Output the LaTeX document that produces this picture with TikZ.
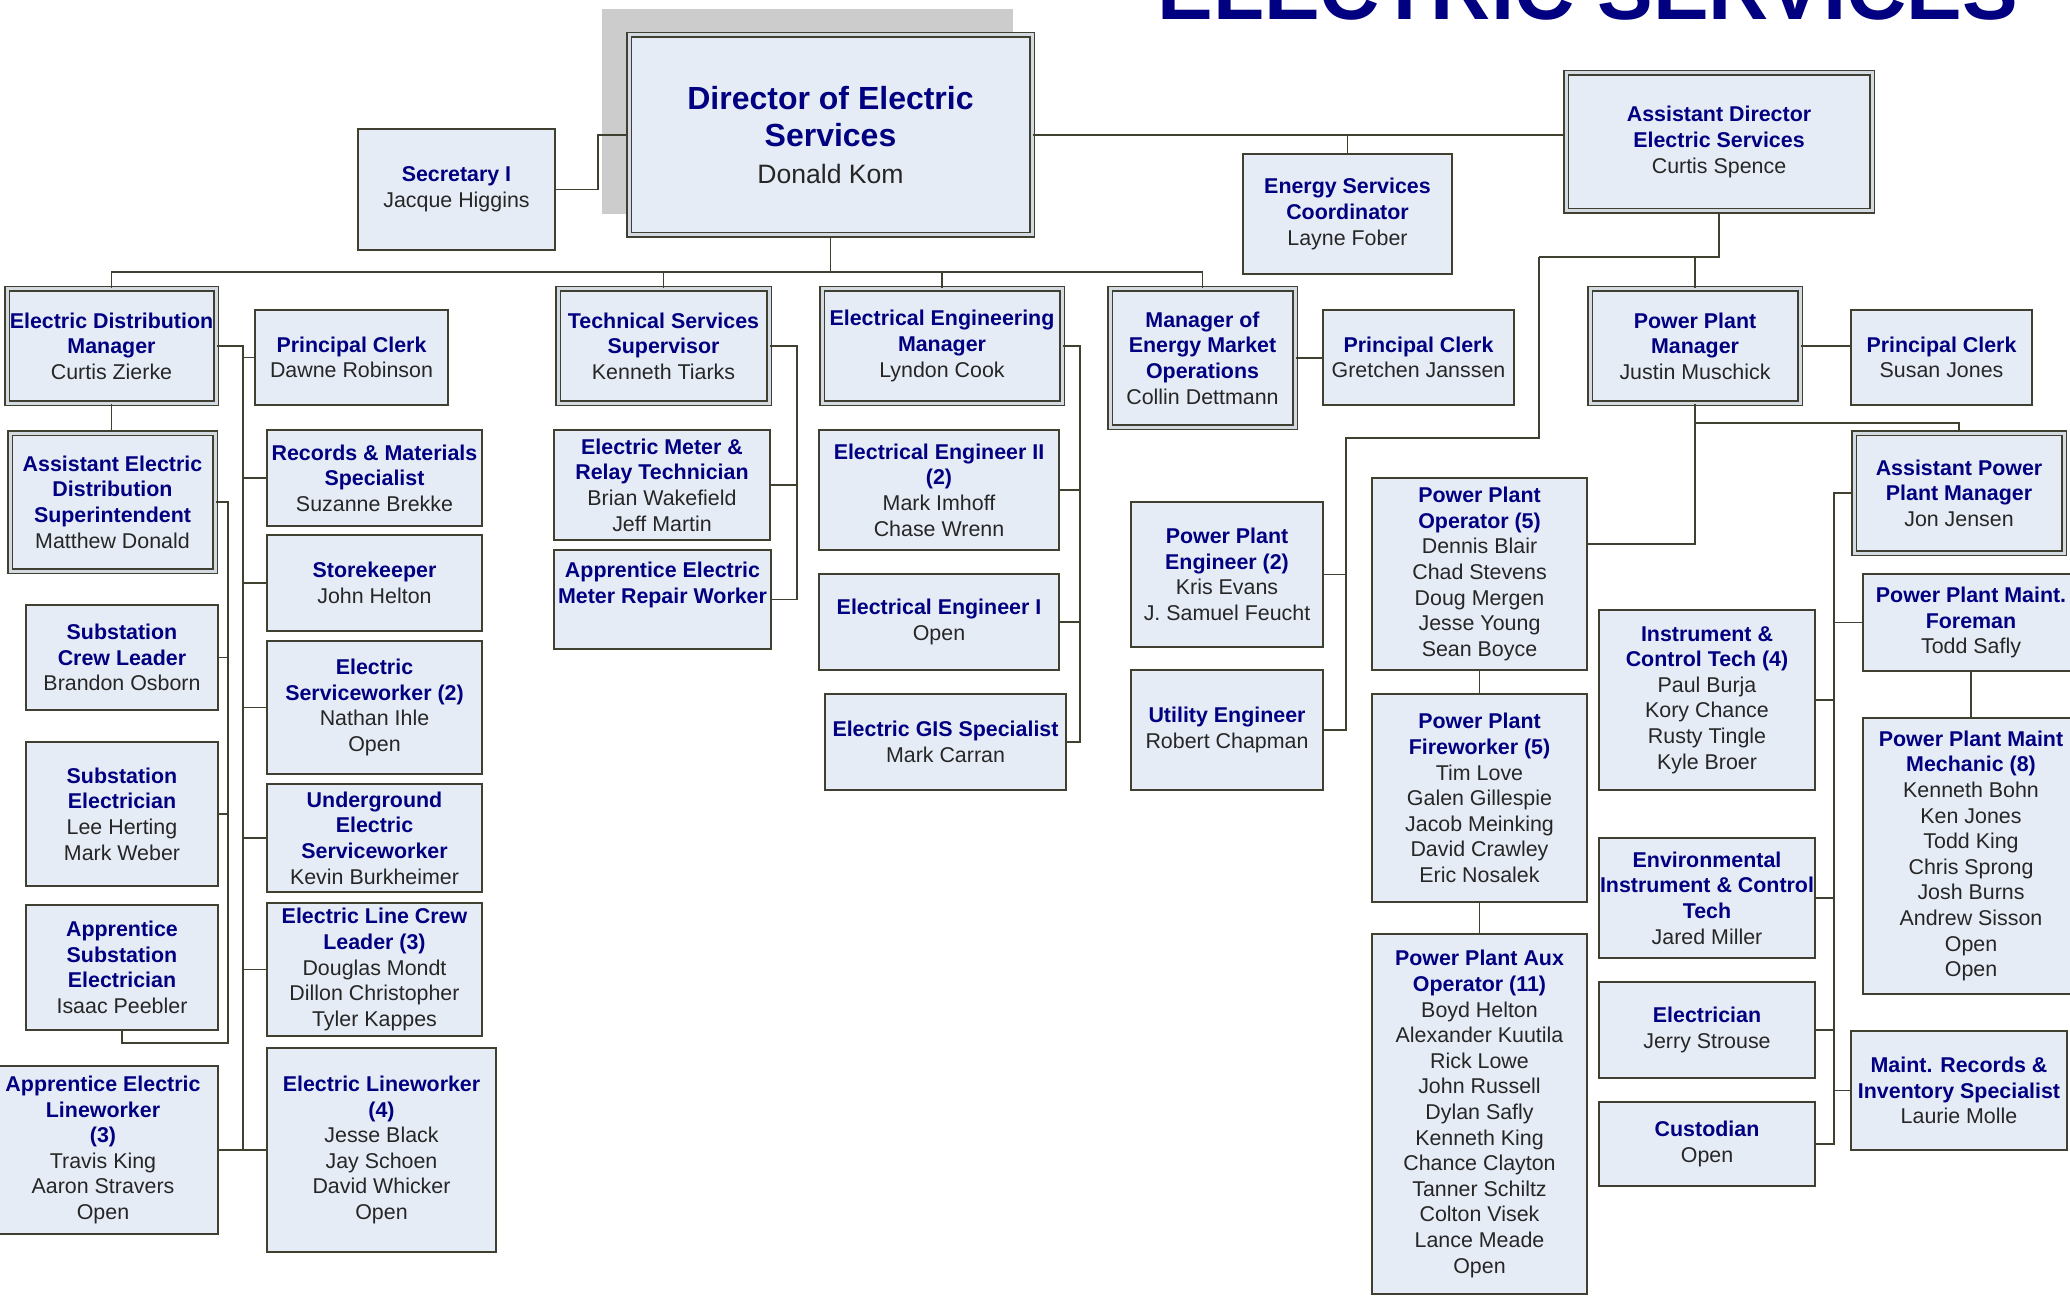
\documentclass[tikz,border=0pt]{standalone}
\usepackage{fontspec}
\setmainfont{Liberation Sans}
\definecolor{linec}{RGB}{64,64,48}
\definecolor{boxfill}{RGB}{230,236,246}
\definecolor{gapc}{RGB}{212,218,226}
\definecolor{titlec}{RGB}{0,0,128}
\definecolor{namec}{RGB}{38,38,38}
\definecolor{shadowc}{RGB}{204,204,204}
\newcommand\ptitle[1]{{\color{titlec}\bfseries #1}}
\newcommand\pname[1]{{\color{namec}#1}}
\tikzset{
  box/.style={draw=linec, line width=1pt, fill=boxfill, inner sep=0pt, align=center, font=\fontsize{10.7pt}{12.8pt}\selectfont},
  dbox/.style={box, line width=0.75pt, double=gapc, double distance=1.5pt},
  wire/.style={draw=linec, line width=0.9pt}
}
\begin{document}
\begin{tikzpicture}[x=0.5pt,y=-0.5pt]
\useasboundingbox (0,0) rectangle (2070,1299);
\clip (0,0) rectangle (2070,1299);
\fill[white] (0,0) rectangle (2070,1299);

% title
\node[anchor=base west, inner sep=0pt, font=\fontsize{41.7pt}{50pt}\selectfont\bfseries, text=titlec] (heading) at (1157,20) {ELECTRIC SERVICES};

% shadow
\fill[shadowc] (602,9) rectangle (1013,214);

% boxes
\node[dbox, minimum width=201.5pt, minimum height=100pt, font=\fontsize{16pt}{18.5pt}\selectfont] (director) at (830.5,135) {\ptitle{Director of Electric}\\\ptitle{Services}\\\pname{\fontsize{13.3pt}{16pt}\selectfont Donald Kom}};
\node[box, minimum width=98.5pt, minimum height=60.5pt] (secretary) at (456.5,189.5) {\ptitle{Secretary I}\\\pname{Jacque Higgins}};
\node[dbox, minimum width=153pt, minimum height=69pt] (asstdir) at (1719,142) {\ptitle{Assistant Director}\\\ptitle{Electric Services}\\\pname{Curtis Spence}};
\node[box, minimum width=104.5pt, minimum height=60pt] (esc) at (1347.5,214) {\ptitle{Energy Services}\\\ptitle{Coordinator}\\\pname{Layne Fober}};
\node[dbox, minimum width=104.5pt, minimum height=57pt] (edm) at (111.5,346) {\ptitle{Electric Distribution}\\\ptitle{Manager}\\\pname{Curtis Zierke}};
\node[box, minimum width=96.5pt, minimum height=47.5pt] (pcd) at (351.5,357.5) {\ptitle{Principal Clerk}\\\pname{Dawne Robinson}};
\node[dbox, minimum width=105.5pt, minimum height=57pt] (tss) at (663.5,346) {\ptitle{Technical Services}\\\ptitle{Supervisor}\\\pname{Kenneth Tiarks}};
\node[dbox, minimum width=120pt, minimum height=57pt] (eem) at (942,346) {\ptitle{Electrical Engineering}\\\ptitle{Manager}\\\pname{Lyndon Cook}};
\node[dbox, minimum width=92.5pt, minimum height=69pt] (meo) at (1202.5,358) {\ptitle{Manager of}\\\ptitle{Energy Market}\\\ptitle{Operations}\\\pname{Collin Dettmann}};
\node[box, minimum width=95.5pt, minimum height=47.5pt] (pcg) at (1418.5,357.5) {\ptitle{Principal Clerk}\\\pname{Gretchen Janssen}};
\node[dbox, minimum width=105pt, minimum height=57pt] (ppm) at (1695,346) {\ptitle{Power Plant}\\\ptitle{Manager}\\\pname{Justin Muschick}};
\node[box, minimum width=90.5pt, minimum height=47.5pt] (pcs) at (1941.5,357.5) {\ptitle{Principal Clerk}\\\pname{Susan Jones}};

\node[dbox, minimum width=102.5pt, minimum height=69pt] (aeds) at (112.5,502) {\ptitle{Assistant Electric}\\\ptitle{Distribution}\\\ptitle{Superintendent}\\\pname{Matthew Donald}};
\node[box, minimum width=96pt, minimum height=52.5pt] (scl) at (122,657.5) {\ptitle{Substation}\\\ptitle{Crew Leader}\\\pname{Brandon Osborn}};
\node[box, minimum width=96pt, minimum height=72pt] (se) at (122,814) {\ptitle{Substation}\\\ptitle{Electrician}\\\pname{Lee Herting}\\\pname{Mark Weber}};
\node[box, minimum width=96pt, minimum height=62.5pt] (ase) at (122,967.5) {\ptitle{Apprentice}\\\ptitle{Substation}\\\ptitle{Electrician}\\\pname{Isaac Peebler}};
\node[box, minimum width=115pt, minimum height=84pt] (ael) at (103,1150) {\ptitle{Apprentice Electric}\\\ptitle{Lineworker}\\\ptitle{(3)}\\\pname{Travis King}\\\pname{Aaron Stravers}\\\pname{Open}};

\node[box, minimum width=107.5pt, minimum height=48pt] (rms) at (374.5,478) {\ptitle{Records \& Materials}\\\ptitle{Specialist}\\\pname{Suzanne Brekke}};
\node[box, minimum width=107.5pt, minimum height=48pt] (sk) at (374.5,583) {\ptitle{Storekeeper}\\\pname{John Helton}};
\node[box, minimum width=107.5pt, minimum height=66.5pt] (esw) at (374.5,707.5) {\ptitle{Electric}\\\ptitle{Serviceworker (2)}\\\pname{Nathan Ihle}\\\pname{Open}};
\node[box, minimum width=107.5pt, minimum height=54pt] (ues) at (374.5,838) {\ptitle{Underground}\\\ptitle{Electric}\\\ptitle{Serviceworker}\\\pname{Kevin Burkheimer}};
\node[box, minimum width=107.5pt, minimum height=66.5pt] (elcl) at (374.5,969.5) {\ptitle{Electric Line Crew}\\\ptitle{Leader (3)}\\\pname{Douglas Mondt}\\\pname{Dillon Christopher}\\\pname{Tyler Kappes}};
\node[box, minimum width=114.5pt, minimum height=102pt] (elw) at (381.5,1150) {\ptitle{Electric Lineworker}\\\ptitle{(4)}\\\pname{Jesse Black}\\\pname{Jay Schoen}\\\pname{David Whicker}\\\pname{Open}};

\node[box, minimum width=108pt, minimum height=55pt] (emrt) at (662,485) {\ptitle{Electric Meter \&}\\\ptitle{Relay Technician}\\\pname{Brian Wakefield}\\\pname{Jeff Martin}};
\node[box, minimum width=108.5pt, minimum height=49.5pt] (aemr) at (662.5,599.5) {\ptitle{Apprentice Electric}\\\ptitle{Meter Repair Worker}\\\strut};

\node[box, minimum width=120pt, minimum height=60pt] (ee2) at (939,490) {\ptitle{Electrical Engineer II}\\\ptitle{(2)}\\\pname{Mark Imhoff}\\\pname{Chase Wrenn}};
\node[box, minimum width=120pt, minimum height=48pt] (ee1) at (939,622) {\ptitle{Electrical Engineer I}\\\pname{Open}};
\node[box, minimum width=120.5pt, minimum height=48pt] (gis) at (945.5,742) {\ptitle{Electric GIS Specialist}\\\pname{Mark Carran}};

\node[box, minimum width=96pt, minimum height=72.5pt] (ppe) at (1227,574.5) {\ptitle{Power Plant}\\\ptitle{Engineer (2)}\\\pname{Kris Evans}\\\pname{J. Samuel Feucht}};
\node[box, minimum width=96pt, minimum height=60pt] (ue) at (1227,730) {\ptitle{Utility Engineer}\\\pname{Robert Chapman}};

\node[box, minimum width=107.5pt, minimum height=96pt] (ppo) at (1479.5,574) {\ptitle{Power Plant}\\\ptitle{Operator (5)}\\\pname{Dennis Blair}\\\pname{Chad Stevens}\\\pname{Doug Mergen}\\\pname{Jesse Young}\\\pname{Sean Boyce}};
\node[box, minimum width=107.5pt, minimum height=104pt] (ppf) at (1479.5,798) {\ptitle{Power Plant}\\\ptitle{Fireworker (5)}\\\pname{Tim Love}\\\pname{Galen Gillespie}\\\pname{Jacob Meinking}\\\pname{David Crawley}\\\pname{Eric Nosalek}};
\node[box, minimum width=107.5pt, minimum height=180pt] (ppa) at (1479.5,1114) {\ptitle{Power Plant Aux}\\\ptitle{Operator (11)}\\\pname{Boyd Helton}\\\pname{Alexander Kuutila}\\\pname{Rick Lowe}\\\pname{John Russell}\\\pname{Dylan Safly}\\\pname{Kenneth King}\\\pname{Chance Clayton}\\\pname{Tanner Schiltz}\\\pname{Colton Visek}\\\pname{Lance Meade}\\\pname{Open}};

\node[box, minimum width=108pt, minimum height=90pt] (ict) at (1707,700) {\ptitle{Instrument \&}\\\ptitle{Control Tech (4)}\\\pname{Paul Burja}\\\pname{Kory Chance}\\\pname{Rusty Tingle}\\\pname{Kyle Broer}};
\node[box, minimum width=108pt, minimum height=60pt] (eict) at (1707,898) {\ptitle{Environmental}\\\ptitle{Instrument \& Control}\\\ptitle{Tech}\\\pname{Jared Miller}};
\node[box, minimum width=108pt, minimum height=48pt] (elec) at (1707,1030) {\ptitle{Electrician}\\\pname{Jerry Strouse}};
\node[box, minimum width=108pt, minimum height=42pt] (cust) at (1707,1144) {\ptitle{Custodian}\\\pname{Open}};

\node[dbox, minimum width=105pt, minimum height=60pt] (appm) at (1959,493) {\ptitle{Assistant Power}\\\ptitle{Plant Manager}\\\pname{Jon Jensen}};
\node[box, minimum width=108pt, minimum height=48.5pt] (ppmf) at (1971,622.5) {\ptitle{Power Plant Maint.}\\\ptitle{Foreman}\\\pname{Todd Safly}};
\node[box, minimum width=108pt, minimum height=138pt] (ppmm) at (1971,856) {\ptitle{Power Plant Maint}\\\ptitle{Mechanic (8)}\\\pname{Kenneth Bohn}\\\pname{Ken Jones}\\\pname{Todd King}\\\pname{Chris Sprong}\\\pname{Josh Burns}\\\pname{Andrew Sisson}\\\pname{Open}\\\pname{Open}};
\node[box, minimum width=108pt, minimum height=59.5pt] (mris) at (1959,1090.5) {\ptitle{Maint. Records \&}\\\ptitle{Inventory Specialist}\\\pname{Laurie Molle}};

% connectors
\coordinate (j1) at (598,135);
\draw[wire] (secretary.east) -| (j1) -- (director.west);

\coordinate (busY) at (0,272);
\draw[wire] (edm.north) -- (edm.north |- busY) -| (director.south);
\draw[wire] (meo.north) -- (meo.north |- busY) -- (director.south |- busY);
\draw[wire] (tss.north) -- (tss.north |- busY);
\draw[wire] (eem.north) -- (eem.north |- busY);

\draw[wire] (director.east) -- (director.east -| asstdir.west);
\draw[wire] (esc.north) -- (esc.north |- director.east);

\coordinate (pp1) at (1539,257);
\coordinate (pp2) at (1346,438);
\draw[wire] (asstdir.south) |- (pp1);
\draw[wire] (ppm.north) -- (ppm.north |- pp1);
\draw[wire] (pp1) |- (pp2) |- (ue.east);
\draw[wire] (ppe.east) -- (ppe.east -| pp2);

\coordinate (k1) at (1695,544);
\coordinate (k2) at (1695,423);
\draw[wire] (ppm.south) -- (k1) -- (k1 -| ppo.east);
\draw[wire] (k2) -| (appm.north);
\draw[wire] (ppo.south) -- (ppf.north);
\draw[wire] (ppf.south) -- (ppa.north);
\draw[wire] (ppm.east) -- (ppm.east -| pcs.west);
\draw[wire] (meo.east) -- (meo.east -| pcg.west);

\coordinate (lbtop) at (243,346);
\coordinate (lbbot) at (243,1150);
\draw[wire] (edm.east) -- (lbtop) -- (lbbot);
\draw[wire] (pcd.west) -- (pcd.west -| lbtop);
\foreach \bname in {rms,sk,esw,ues,elcl,elw} \draw[wire] (\bname.west) -- (\bname.west -| lbtop);
\draw[wire] (ael.east) -- (ael.east -| lbtop);

\draw[wire] (edm.south) -- (edm.south |- aeds.north);
\coordinate (ab1) at (228,502);
\coordinate (ab2) at (228,1043);
\draw[wire] (aeds.east) -- (ab1) -- (ab2) -| (ase.south);
\draw[wire] (scl.east) -- (scl.east -| ab1);
\draw[wire] (se.east) -- (se.east -| ab1);

\coordinate (tb1) at (797,346);
\draw[wire] (tss.east) -- (tb1) |- (aemr.east);
\draw[wire] (emrt.east) -- (emrt.east -| tb1);

\coordinate (eb1) at (1080,346);
\draw[wire] (eem.east) -- (eb1) |- (gis.east);
\draw[wire] (ee2.east) -- (ee2.east -| eb1);
\draw[wire] (ee1.east) -- (ee1.east -| eb1);

\coordinate (rb1) at (1834,493);
\draw[wire] (appm.west) -- (rb1) |- (cust.east);
\foreach \bname in {ict,eict,elec} \draw[wire] (\bname.east) -- (\bname.east -| rb1);
\draw[wire] (ppmf.west) -- (ppmf.west -| rb1);
\draw[wire] (mris.west) -- (mris.west -| rb1);
\draw[wire] (ppmf.south) -- (ppmm.north);
\end{tikzpicture}
\end{document}
